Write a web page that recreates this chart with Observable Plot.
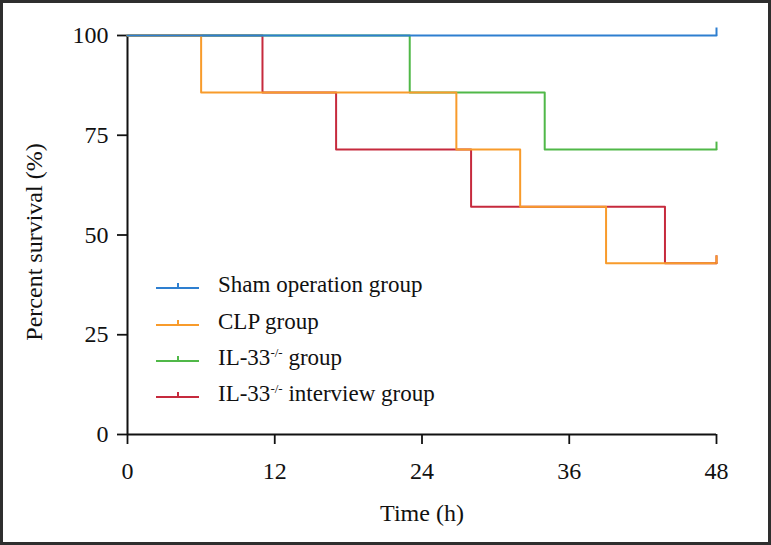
<!DOCTYPE html>
<html>
<head>
<meta charset="utf-8">
<script src="https://cdn.jsdelivr.net/npm/d3@7"></script>
<script src="https://cdn.jsdelivr.net/npm/@observablehq/plot@0.6"></script>
<style>
  html, body { margin: 0; padding: 0; background: #fff; }
  #wrap { position: relative; width: 771px; height: 545px; overflow: hidden; font-family: "Liberation Serif", "DejaVu Serif", serif; }
  #frame { position: absolute; left: 0; top: 0; width: 771px; height: 545px; box-sizing: border-box; border: 3px solid #2e2e2e; pointer-events: none; }
  #chart svg { display: block; }
  #legend { position: absolute; left: 156px; top: 267px; }
  .row { display: flex; align-items: center; height: 36.4px; font-size: 23px; color: #111; white-space: nowrap; }
  .row svg { margin-right: 19px; }
  .sup { font-size: 13px; position: relative; top: -8px; }
</style>
</head>
<body>
<div id="wrap">
  <div id="chart"></div>
  <div id="legend"></div>
  <div id="frame"></div>
</div>
<script>
// ---- data ----
const groups = ["Sham operation group", "CLP group", "IL-33-/- group", "IL-33-/- interview group"];
const colors = ["#2e7fd0", "#f89b2b", "#50b848", "#c62a3d"];

const shamTime = [0, 48];
const shamSurv = [100, 100];

const clpTime = [0, 6, 26.8, 32, 39, 48];
const clpSurv = [100, 85.7, 71.4, 57.1, 42.9, 42.9];

const il33Time = [0, 23, 34, 48];
const il33Surv = [100, 85.7, 71.4, 71.4];

const il33iTime = [0, 11, 17, 28, 43.8, 48];
const il33iSurv = [100, 85.7, 71.4, 57.1, 42.9, 42.9];

const xTicks = [0, 12, 24, 36, 48];
const yTicks = [0, 25, 50, 75, 100];
const xTitle = "Time (h)";
const yTitle = "Percent survival (%)";

// ---- build table ----
const seriesTimes = [shamTime, clpTime, il33Time, il33iTime];
const seriesSurv = [shamSurv, clpSurv, il33Surv, il33iSurv];
const rows = [];
seriesTimes.forEach((ts, g) => ts.forEach((t, i) => rows.push({group: groups[g], time: t, surv: seriesSurv[g][i]})));
const drawOrder = [3, 2, 1, 0]; // red, green, orange, blue on top
const ends = groups.map((g, i) => ({group: g, time: seriesTimes[i][seriesTimes[i].length - 1], surv: seriesSurv[i][seriesSurv[i].length - 1]}));

const censorSymbol = { draw(ctx) { ctx.moveTo(0, 0); ctx.lineTo(0, -8); } };

const marks = [];
for (const gi of drawOrder) {
  marks.push(Plot.line(rows.filter(d => d.group === groups[gi]), {
    x: "time", y: "surv", curve: "step-after", stroke: colors[gi], strokeWidth: 2
  }));
}
for (const gi of drawOrder) {
  marks.push(Plot.dot([ends[gi]], {x: "time", y: "surv", symbol: censorSymbol, r: 4, stroke: colors[gi], strokeWidth: 2, fill: "none"}));
}

const chart = Plot.plot({
  width: 771,
  height: 545,
  marginLeft: 127,
  marginRight: 55,
  marginTop: 35,
  marginBottom: 111,
  style: { fontFamily: "Liberation Serif, serif", color: "#111", background: "#fff" },
  x: { domain: [0, 48] },
  y: { domain: [0, 100] },
  marks: [
    Plot.axisY({ticks: yTicks, tickSize: 10, tickPadding: 9, fontSize: 24, strokeWidth: 1.8, label: null}),
    Plot.axisX({ticks: xTicks, tickSize: 10, tickPadding: 17, fontSize: 24, strokeWidth: 1.8,
      label: xTitle, labelAnchor: "center", labelArrow: "none", labelOffset: 86}),
    Plot.text([yTitle], {frameAnchor: "left", text: d => d, rotate: -90, textAnchor: "middle", fontSize: 24, dx: -93, dy: 7, fill: "#111"}),
    Plot.ruleX([0], {stroke: "#111", strokeWidth: 2}),
    Plot.ruleY([0], {stroke: "#111", strokeWidth: 2}),
    ...marks
  ]
});
document.getElementById("chart").appendChild(chart);

// ---- legend ----
const legend = document.getElementById("legend");
groups.forEach((g, i) => {
  const row = document.createElement("div");
  row.className = "row";
  const parts = g.split("-/-");
  const label = parts.length > 1
    ? `${parts[0]}<span class="sup">-/-</span>${parts[1]}`
    : g;
  row.innerHTML = `<svg width="43" height="12"><line x1="0" x2="43" y1="9" y2="9" stroke="${colors[i]}" stroke-width="2"/><line x1="22" x2="22" y1="9" y2="4" stroke="${colors[i]}" stroke-width="2"/></svg><span>${label}</span>`;
  legend.appendChild(row);
});
</script>
</body>
</html>
